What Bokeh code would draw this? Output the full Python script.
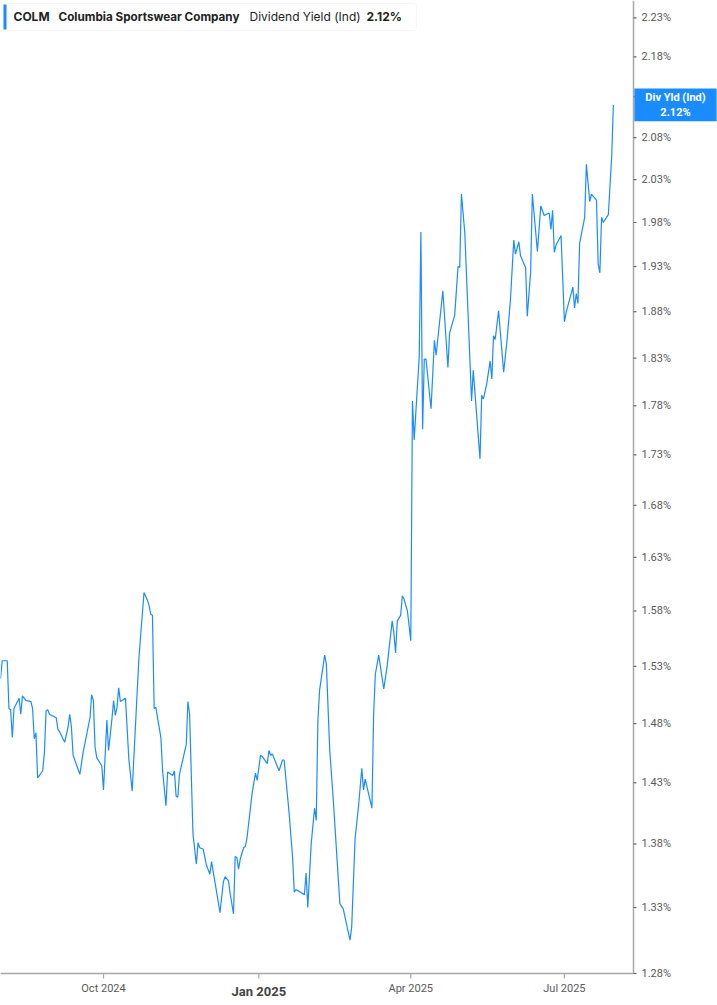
import math
import pandas as pd
from bokeh.plotting import figure
from bokeh.models import ColumnDataSource, Range1d, Label, BoxAnnotation
from bokeh.core.properties import value
from bokeh.embed import file_html
from bokeh.resources import INLINE

# COLM indicated dividend yield (%)
dates = [
    "2024-08-01", "2024-08-02", "2024-08-05", "2024-08-06", "2024-08-07", "2024-08-08", "2024-08-09",
    "2024-08-12", "2024-08-13", "2024-08-14", "2024-08-16", "2024-08-19", "2024-08-20", "2024-08-21",
    "2024-08-22", "2024-08-23", "2024-08-26", "2024-08-27", "2024-08-28", "2024-08-29", "2024-08-30",
    "2024-09-03", "2024-09-04", "2024-09-05", "2024-09-08", "2024-09-10", "2024-09-11", "2024-09-12",
    "2024-09-13", "2024-09-17", "2024-09-19", "2024-09-20", "2024-09-23", "2024-09-24", "2024-09-25",
    "2024-09-26", "2024-09-27", "2024-09-30", "2024-10-01", "2024-10-03", "2024-10-04", "2024-10-06",
    "2024-10-07", "2024-10-08", "2024-10-09", "2024-10-10", "2024-10-11", "2024-10-14", "2024-10-16",
    "2024-10-18", "2024-10-20", "2024-10-22", "2024-10-25", "2024-10-27", "2024-10-28", "2024-10-29",
    "2024-10-30", "2024-10-31", "2024-11-01", "2024-11-04", "2024-11-05", "2024-11-07", "2024-11-08",
    "2024-11-11", "2024-11-12", "2024-11-13", "2024-11-14", "2024-11-15", "2024-11-19", "2024-11-20",
    "2024-11-21", "2024-11-22", "2024-11-23", "2024-11-25", "2024-11-26", "2024-11-27", "2024-11-29",
    "2024-12-01", "2024-12-03", "2024-12-04", "2024-12-06", "2024-12-09", "2024-12-11", "2024-12-12",
    "2024-12-14", "2024-12-15", "2024-12-17", "2024-12-18", "2024-12-19", "2024-12-20", "2024-12-21",
    "2024-12-23", "2024-12-24", "2024-12-25", "2024-12-28", "2024-12-30", "2024-12-31", "2025-01-02",
    "2025-01-03", "2025-01-06", "2025-01-07", "2025-01-08", "2025-01-09", "2025-01-13", "2025-01-15",
    "2025-01-16", "2025-01-19", "2025-01-21", "2025-01-22", "2025-01-23", "2025-01-28", "2025-01-29",
    "2025-01-30", "2025-02-01", "2025-02-03", "2025-02-04", "2025-02-05", "2025-02-06", "2025-02-09",
    "2025-02-10", "2025-02-12", "2025-02-14", "2025-02-18", "2025-02-20", "2025-02-24", "2025-02-25",
    "2025-02-27", "2025-03-01", "2025-03-03", "2025-03-04", "2025-03-05", "2025-03-09", "2025-03-10",
    "2025-03-11", "2025-03-13", "2025-03-16", "2025-03-18", "2025-03-19", "2025-03-21", "2025-03-22",
    "2025-03-23", "2025-03-24", "2025-03-26", "2025-03-27", "2025-03-28", "2025-03-30", "2025-04-01",
    "2025-04-02", "2025-04-03", "2025-04-06", "2025-04-07", "2025-04-08", "2025-04-09", "2025-04-10",
    "2025-04-13", "2025-04-15", "2025-04-16", "2025-04-20", "2025-04-23", "2025-04-24", "2025-04-27",
    "2025-04-29", "2025-04-30", "2025-05-01", "2025-05-03", "2025-05-07", "2025-05-08", "2025-05-12",
    "2025-05-13", "2025-05-14", "2025-05-16", "2025-05-18", "2025-05-19", "2025-05-20", "2025-05-21",
    "2025-05-23", "2025-05-26", "2025-05-28", "2025-05-30", "2025-06-01", "2025-06-02", "2025-06-04",
    "2025-06-05", "2025-06-08", "2025-06-09", "2025-06-11", "2025-06-12", "2025-06-15", "2025-06-17",
    "2025-06-19", "2025-06-22", "2025-06-23", "2025-06-24", "2025-06-25", "2025-06-26", "2025-06-29",
    "2025-07-01", "2025-07-02", "2025-07-06", "2025-07-07", "2025-07-08", "2025-07-09", "2025-07-10",
    "2025-07-13", "2025-07-14", "2025-07-16", "2025-07-17", "2025-07-20", "2025-07-21", "2025-07-22",
    "2025-07-23", "2025-07-24", "2025-07-27", "2025-07-29", "2025-07-30",
]

yield_pct = [
    1.519, 1.535, 1.535, 1.493, 1.492, 1.468, 1.493,
    1.502, 1.488, 1.504, 1.500, 1.499, 1.493, 1.467,
    1.472, 1.434, 1.440, 1.455, 1.491, 1.492, 1.488,
    1.485, 1.475, 1.473, 1.464, 1.477, 1.488, 1.477,
    1.453, 1.437, 1.456, 1.463, 1.485, 1.505, 1.500,
    1.460, 1.451, 1.444, 1.424, 1.483, 1.457, 1.484,
    1.500, 1.487, 1.494, 1.511, 1.499, 1.502, 1.450,
    1.423, 1.480, 1.538, 1.597, 1.590, 1.585, 1.577,
    1.576, 1.493, 1.494, 1.468, 1.440, 1.411, 1.439,
    1.436, 1.440, 1.419, 1.418, 1.437, 1.462, 1.499,
    1.488, 1.437, 1.388, 1.364, 1.381, 1.377, 1.376,
    1.363, 1.356, 1.366, 1.350, 1.326, 1.350, 1.354,
    1.351, 1.341, 1.325, 1.370, 1.369, 1.360, 1.368,
    1.377, 1.378, 1.385, 1.421, 1.438, 1.432, 1.453,
    1.452, 1.446, 1.457, 1.453, 1.454, 1.440, 1.449,
    1.449, 1.404, 1.369, 1.342, 1.344, 1.340, 1.357,
    1.330, 1.380, 1.409, 1.399, 1.483, 1.509, 1.540,
    1.532, 1.457, 1.418, 1.333, 1.329, 1.305, 1.315,
    1.384, 1.410, 1.442, 1.424, 1.433, 1.409, 1.488,
    1.523, 1.540, 1.510, 1.530, 1.544, 1.571, 1.560,
    1.542, 1.571, 1.576, 1.594, 1.591, 1.580, 1.553,
    1.785, 1.745, 1.831, 1.969, 1.756, 1.829, 1.829,
    1.777, 1.849, 1.833, 1.903, 1.820, 1.857, 1.876,
    1.930, 1.929, 2.013, 1.968, 1.785, 1.817, 1.726,
    1.791, 1.787, 1.803, 1.827, 1.808, 1.854, 1.850,
    1.881, 1.815, 1.849, 1.892, 1.960, 1.944, 1.958,
    1.942, 1.929, 1.875, 1.924, 2.013, 1.947, 1.999,
    1.988, 1.991, 1.972, 1.994, 1.946, 1.954, 1.965,
    1.869, 1.879, 1.907, 1.884, 1.900, 1.889, 1.956,
    1.986, 2.048, 2.004, 2.013, 2.006, 1.933, 1.923,
    1.986, 1.980, 1.989, 2.057, 2.120,
]

y_ticks = [1.28, 1.33, 1.38, 1.43, 1.48, 1.53, 1.58, 1.63, 1.68, 1.73,
           1.78, 1.83, 1.88, 1.93, 1.98, 2.03, 2.08, 2.13, 2.18, 2.23]
x_tick_dates = ["2024-10-01", "2025-01-01", "2025-04-01", "2025-07-01"]

ticker_symbol = "COLM"
company = "Columbia Sportswear Company"
metric = "Dividend Yield (Ind)"
last_value = yield_pct[-1]

BLUE = "#1a8cff"
GREY_TEXT = "#5a5a5a"
AXIS_GREY = "#a8a8a8"

W, H = 717, 1005
PLOT_W, PLOT_H = 633, 973          # pixel extent of the charting area inside the page

# charting window: dates on x, log-scaled percent on y
x_start = pd.Timestamp("2024-08-01")
x_axis = pd.Timestamp("2025-08-10 22:00")
y_low, y_high = 1.28, 2.2525

# the canvas reaches past the charting window to hold the axes
x_stop = x_start + (x_axis - x_start) * (W / PLOT_W)
y_floor = y_low / (y_high / y_low) ** ((H - PLOT_H) / PLOT_H)

p = figure(width=W, height=H, x_axis_type="datetime", y_axis_type="log",
           x_axis_location=None, y_axis_location=None,
           output_backend="svg", toolbar_location=None,
           x_range=Range1d(x_start, x_stop), y_range=Range1d(y_floor, y_high),
           min_border=0)
p.outline_line_color = None
p.grid.visible = False
p.background_fill_color = "white"
p.border_fill_color = "white"

# series
src = ColumnDataSource(dict(date=pd.to_datetime(dates), val=yield_pct))
p.line(x="date", y="val", source=src, line_color=BLUE, line_width=1.2)

# axis lines
p.line(x=[x_axis, x_axis], y=[y_low, y_high], line_color=AXIS_GREY, line_width=1.5)
p.line(x=[x_start, x_axis], y=[y_low, y_low], line_color=AXIS_GREY, line_width=1.5)

# right percent axis: ticks and labels
ysrc = ColumnDataSource(dict(x=[x_axis] * len(y_ticks), y=y_ticks,
                             lab=["%.2f%%" % t for t in y_ticks]))
p.ray(x="x", y="y", source=ysrc, length=3, length_units="screen", angle=0,
      line_color="#666666", line_width=1.2)
p.text(x="x", y="y", text="lab", source=ysrc, x_offset=8,
       text_font=value("Roboto"), text_font_size="11px", text_color=GREY_TEXT,
       text_align="left", text_baseline="middle")

# bottom date axis: ticks, regular labels, bold year-start label
xt = pd.to_datetime(x_tick_dates)
p.ray(x=xt, y=[y_low] * len(xt), length=5, length_units="screen", angle=-math.pi / 2,
      line_color=AXIS_GREY, line_width=1.2)
reg = [d for d in xt if d.month != 1]
yr = [d for d in xt if d.month == 1]
p.text(x=reg, y=[y_low] * len(reg), text=[d.strftime("%b %Y") for d in reg],
       y_offset=15, text_font=value("Roboto"), text_font_size="11px",
       text_color=GREY_TEXT, text_align="center", text_baseline="middle")
p.text(x=yr, y=[y_low] * len(yr), text=[d.strftime("%b %Y") for d in yr],
       y_offset=18, text_font=value("Roboto"), text_font_style="bold",
       text_font_size="13px", text_color="#444444", text_align="center",
       text_baseline="middle")

# last-value tag on the axis
p.add_layout(Label(x=675, y=last_value, x_units="screen", y_units="data",
                   text="Div Yld (Ind)\n%.2f%%" % last_value, text_font="Roboto",
                   text_font_style="bold", text_font_size="11px", text_color="white",
                   text_align="center", text_baseline="middle",
                   background_fill_color=BLUE, padding=(11, 2)))

# header box
p.add_layout(BoxAnnotation(left=3, right=416, top=H - 3, bottom=H - 30,
                           left_units="screen", right_units="screen",
                           top_units="screen", bottom_units="screen",
                           fill_color="white", fill_alpha=1.0,
                           line_color="#e2e2e2", line_width=1, border_radius=3))
p.add_layout(BoxAnnotation(left=3, right=6, top=H - 4, bottom=H - 29,
                           left_units="screen", right_units="screen",
                           top_units="screen", bottom_units="screen",
                           fill_color=BLUE, fill_alpha=1.0, line_color=None))

header_parts = [
    (13, ticker_symbol, "bold", "12px"),
    (58, company, "bold", "11.7px"),
    (249, metric, "normal", "12px"),
    (366, "%.2f%%" % last_value, "bold", "12px"),
]
for hx, txt, style, size in header_parts:
    p.add_layout(Label(x=hx, y=H - 16, x_units="screen", y_units="screen", text=txt,
                       text_font="Inter", text_font_style=style, text_font_size=size,
                       text_color="#222222", text_baseline="middle"))

open("out.html", "w").write(file_html(p, INLINE))
